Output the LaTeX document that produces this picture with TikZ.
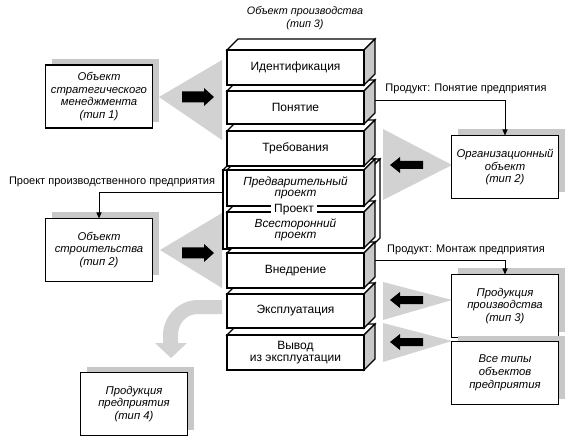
\documentclass[tikz,border=0pt]{standalone}
\usepackage{fontspec}
\setmainfont{Liberation Sans}
\usetikzlibrary{arrows.meta,shadows}
\definecolor{sidegray}{HTML}{C8C8C8}
\definecolor{trigray}{HTML}{D2D2D2}
\definecolor{shadgray}{HTML}{C8C8C8}
\newcommand{\txtsz}{\fontsize{11}{12.4}\selectfont}
\newcommand{\stksz}{\fontsize{12}{12}\selectfont}
\newcommand{\stkit}{\fontsize{11.8}{11.5}\selectfont\itshape}
\newcommand{\itsz}{\fontsize{11.3}{12.8}\selectfont\itshape}
\newcommand{\ttlsz}{\fontsize{10.8}{13}\selectfont\itshape}
% stack block: #2 top y, #3 bottom y, #4 name, #5 text
\newcommand{\sblock}[5][]{%
  \draw[edge,fill=white] (227,#2) -- (238,#2-11) -- (375,#2-11) -- (364,#2) -- cycle;
  \draw[edge,fill=sidegray] (364,#2) -- (375,#2-11) -- (375,#3-11) -- (364,#3) -- cycle;
  \node[front,#1,minimum height={#3-#2},anchor=north west] (#4) at (227,#2) {#5};
}
% black arrow pointing right: #1 tail x, #2 tip x, #3 y
\newcommand{\fatR}[3]{%
  \fill (#1,#3-5.5) -- (#2-10,#3-5.5) -- (#2-10,#3-9) -- (#2,#3) -- (#2-10,#3+9) -- (#2-10,#3+5.5) -- (#1,#3+5.5) -- cycle;
}
% black arrow pointing left: #1 tip x, #2 tail x, #3 y
\newcommand{\fatL}[3]{%
  \fill (#1,#3) -- (#1+10,#3-8) -- (#1+10,#3-4) -- (#2,#3-4) -- (#2,#3+4) -- (#1+10,#3+4) -- (#1+10,#3+8) -- cycle;
}
\begin{document}
\begin{tikzpicture}[x=1pt,y=-1pt,
  edge/.style={line width=1.2pt,line join=miter},
  front/.style={draw,line width=1.2pt,fill=white,minimum width=137,inner sep=0pt,outer sep=0pt,align=center,font=\stksz},
  obox/.style={draw,line width=1.3pt,fill=white,minimum width=107,minimum height=63,inner sep=0pt,outer sep=0pt,align=center,font=\itsz,
    drop shadow={shadow xshift=6pt,shadow yshift=6pt,fill=shadgray,opacity=1}},
  lbl/.style={font=\txtsz,inner sep=1pt},
  conn/.style={line width=0.9pt,-{Triangle[length=6pt,width=5pt]}},
  tri/.style={fill=trigray}]
\useasboundingbox (0,0) rectangle (571,441);

% title
\node[font=\ttlsz,align=center] (title) at (305,18.5) {Объект производства\\(тип 3)};

% gray funnels
\fill[tri] (159,97) -- (222,60) -- (222,140) -- cycle;
\fill[tri] (160,250) -- (222,213) -- (222,288) -- cycle;
\fill[tri] (383,129) -- (452,165) -- (383,200) -- cycle;
\fill[tri] (383,282) -- (452,300) -- (383,320) -- cycle;
\fill[tri] (383,323) -- (452,341) -- (383,362) -- cycle;

% curved gray arrow
\fill[tri] (222,300) -- (198,300) .. controls (179,300) and (163,316) .. (163,335)
  -- (163,343) -- (155,343) -- (171,358) -- (187,343) -- (178,343) -- (178,335)
  .. controls (178,323.4) and (186.4,314) .. (198,314) -- (222,314) -- cycle;

% project frame
\node[draw,edge,fill=white,minimum width=146,minimum height=79,inner sep=0pt,outer sep=0pt,anchor=north west] (proj) at (223,170) {};
\draw[edge,fill=white] (223,170) -- (234,159) -- (380,159) -- (369,170) -- cycle;
\draw[edge,fill=white] (369,170) -- (380,159) -- (380,238) -- (369,249) -- cycle;

% stack, from bottom to top
\sblock{335}{370}{b8}{Вывод\\из эксплуатации}
\sblock{294}{328}{b7}{Эксплуатация}
\sblock{253}{288}{b6}{Внедрение}
\sblock[font=\stkit]{212}{248}{b5}{Всесторонний\\проект}
\sblock[font=\stkit]{170}{206}{b4}{Предварительный\\проект}
\node[font=\stksz,fill=white,inner xsep=3pt,inner ysep=1.5pt] (projlbl) at (294,210) {Проект};
\sblock{131}{166}{b3}{Требования}
\sblock{91}{124}{b2}{Понятие}
\sblock{50}{85}{b1}{Идентификация}

% object boxes
\node[obox] (strat) at (99,96.5) {Объект\\стратегического\\менеджмента\\(тип 1)};
\node[obox] (ostr) at (99,250) {Объект\\строительства\\(тип 2)};
\node[obox] (prodent) at (134,404) {Продукция\\предприятия\\(тип 4)};
\node[obox] (org) at (505,167) {Организационный\\объект\\(тип 2)};
\node[obox] (prodp) at (505,306) {Продукция\\производства\\(тип 3)};
\node[obox] (all) at (505,373) {Все типы\\объектов\\предприятия};

% black arrows
\fatR{182}{214}{97}
\fatR{182}{214}{253}
\fatL{390}{423}{165}
\fatL{390}{423}{300}
\fatL{390}{423}{342}

% connectors
\coordinate (c1) at (375,100);
\coordinate (c2) at (223,192);
\coordinate (c3) at (375,260);
\draw[conn] (c1) -| (org.north);
\draw[conn] (c2) -| (ostr.north);
\draw[conn] (c3) -| (prodp.north);
\node[lbl] (l1) at (466,89) {Продукт: Понятие предприятия};
\node[lbl] (l2) at (112,182) {Проект производственного предприятия};
\node[lbl] (l3) at (466,250) {Продукт: Монтаж предприятия};
\end{tikzpicture}
\end{document}
